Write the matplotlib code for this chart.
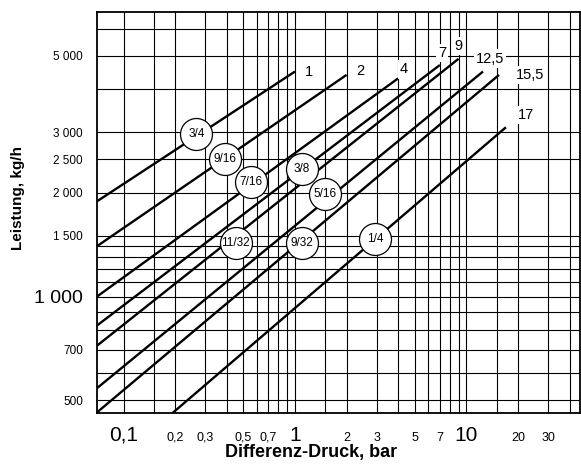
import matplotlib
matplotlib.use("Agg")
import matplotlib.pyplot as plt
import matplotlib.ticker as mticker
from matplotlib import font_manager

# --- data ---
max_pressure = [1, 2, 4, 7, 9, 12.5, 15.5, 17]          # bar, end of each line
pressure_labels = ["1", "2", "4", "7", "9", "12,5", "15,5", "17"]
flow_at_max = [4500, 4400, 4300, 4700, 4900, 4500, 4400, 3100]   # kg/h
start_pressure = [0.07, 0.07, 0.07, 0.07, 0.07, 0.07, 0.07, 0.194]
start_flow = [1890, 1400, 1000, 824, 720, 542, 461, 460]

nozzle_sizes = ["3/4", "9/16", "7/16", "3/8", "5/16", "11/32", "9/32", "1/4"]
size_dp = [0.266, 0.39, 0.551, 1.10, 1.50, 0.45, 1.10, 2.94]
size_flow = [2970, 2510, 2145, 2345, 1990, 1430, 1430, 1470]

x_grid = [0.1, 0.15, 0.2, 0.3, 0.4, 0.5, 0.6, 0.7, 0.8, 0.9, 1, 1.5, 2, 3, 4, 5,
          6, 7, 8, 9, 10, 15, 20, 30, 40]
x_tick_vals = [0.1, 0.2, 0.3, 0.5, 0.7, 1, 2, 3, 5, 7, 10, 20, 30]
x_tick_text = ["0,1", "0,2", "0,3", "0,5", "0,7", "1", "2", "3", "5", "7", "10", "20", "30"]
y_tick_vals = [500, 700, 1000, 1500, 2000, 2500, 3000, 5000]
y_tick_text = ["500", "700", "1 000", "1 500", "2 000", "2 500", "3 000", "5 000"]
y_minor = [600, 800, 900, 1100, 1200, 1300, 1400, 4000, 6000]

# label offsets from line ends, pixels
label_off = [(10, 0), (10, 4), (6, 9), (2, 12), (0, 13), (7, 13), (17, 0), (12, 12)]

names = {f.name for f in font_manager.fontManager.ttflist}
NARROW = "Liberation Sans Narrow" if "Liberation Sans Narrow" in names else "Liberation Sans"
BOLD = "Liberation Sans"

fig = plt.figure(figsize=(5.81, 4.66), dpi=100)
ax = fig.add_axes([97 / 581, 1 - 412.7 / 466, 483 / 581, 400.7 / 466])
ax.set_xscale("log")
ax.set_yscale("log")
ax.set_xlim(0.07, 46)
ax.set_ylim(460, 6700)

# grid
ax.xaxis.set_major_locator(mticker.FixedLocator(x_grid))
ax.xaxis.set_minor_locator(mticker.NullLocator())
ax.xaxis.set_major_formatter(mticker.NullFormatter())
ax.yaxis.set_major_locator(mticker.FixedLocator(y_tick_vals))
ax.yaxis.set_minor_locator(mticker.FixedLocator(y_minor))
ax.yaxis.set_major_formatter(mticker.FixedFormatter(y_tick_text))
ax.yaxis.set_minor_formatter(mticker.NullFormatter())
ax.grid(True, which="both", color="black", linewidth=0.8, zorder=0)
ax.tick_params(which="both", length=0)
ax.tick_params(axis="y", pad=10)
for lbl, t in zip(ax.get_yticklabels(), y_tick_text):
    lbl.set_fontfamily(NARROW)
    lbl.set_fontsize(14 if t == "1 000" else 8.5)
for s in ax.spines.values():
    s.set_linewidth(1.3)

# x tick labels, bottom aligned
xt = ax.get_xaxis_transform()
for v, t in zip(x_tick_vals, x_tick_text):
    big = t in ("0,1", "1", "10")
    ax.text(v, -0.0706, t, transform=xt, ha="center", va="baseline",
            fontsize=15 if big else 9, family=NARROW, clip_on=False)

# capacity lines
for x0, y0, x1, y1, lab, off in zip(start_pressure, start_flow, max_pressure,
                                    flow_at_max, pressure_labels, label_off):
    ax.plot([x0, x1], [y0, y1], color="black", linewidth=1.7,
            solid_capstyle="butt", zorder=3)
    ax.annotate(lab, (x1, y1), xytext=off, textcoords="offset pixels",
                ha="left" if off[0] > 8 else "center", va="center",
                fontsize=10.5, family=NARROW, zorder=5,
                bbox=dict(boxstyle="square,pad=0.15", facecolor="white",
                          edgecolor="none"))

# nozzle size bubbles
ax.scatter(size_dp, size_flow, s=530, facecolor="white", edgecolor="black",
           linewidth=0.9, zorder=6)
for x, y, t in zip(size_dp, size_flow, nozzle_sizes):
    ax.text(x, y, t, ha="center", va="center", fontsize=8.5, family=NARROW,
            zorder=7)

fig.text(18 / 581, 1 - 198 / 466, "Leistung, kg/h", rotation=90, ha="center",
         va="center", fontsize=11, fontweight="bold", family=BOLD)
fig.text(310.7 / 581, 1 - 453 / 466, "Differenz-Druck, bar", ha="center",
         va="center", fontsize=13, fontweight="bold", family=BOLD)

fig.savefig("out.png", dpi=100)
